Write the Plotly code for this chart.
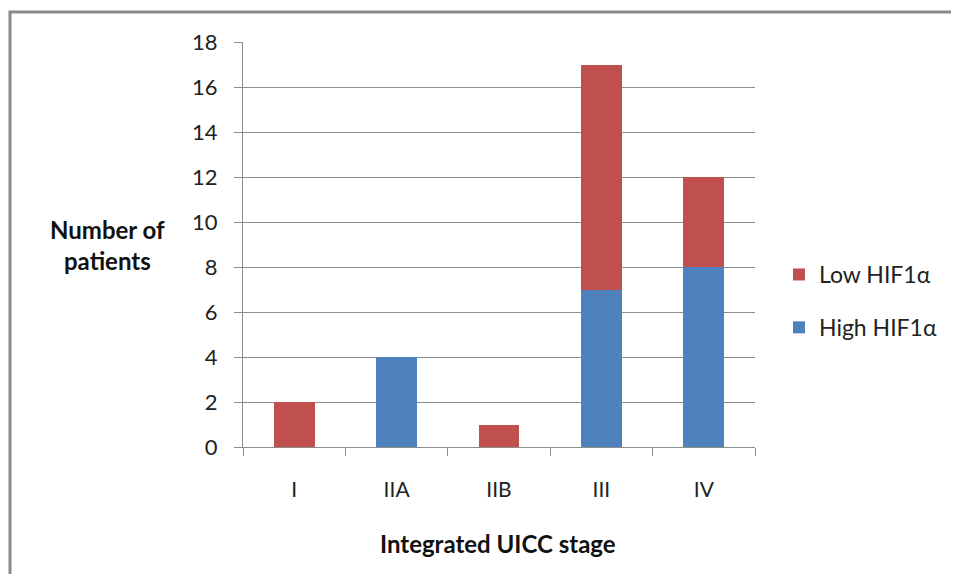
import plotly.graph_objects as go

categories = ["I", "IIA", "IIB", "III", "IV"]
high_hif = [0, 4, 0, 7, 8]
low_hif = [2, 0, 1, 10, 4]
y_ticks = list(range(0, 19, 2))

FONT = "Lato, Calibri, Arial, sans-serif"
GRID = "#8c8c8c"

# page body has an 8px margin; figure is 943x566 so page is exactly 959x582.
W, H = 943, 566
L, T = 235, 34
PW, PH = 512, 405
R, B = W - L - PW, H - T - PH


def px(xp):
    return (xp - 8 - L) / PW


def py(yp):
    return (H - B - (yp - 8)) / PH


fig = go.Figure()
fig.add_trace(go.Bar(x=categories, y=high_hif, name="High HIF1α",
                     marker=dict(color="#4F81BD", line=dict(width=0)),
                     legendgroup="h", legendrank=2))
fig.add_trace(go.Bar(x=categories, y=low_hif, name="Low HIF1α",
                     marker=dict(color="#C0504D", line=dict(width=0)),
                     legendgroup="l", legendrank=1))

fig.update_layout(
    barmode="stack",
    bargap=0.6,
    width=W, height=H,
    margin=dict(l=L, r=R, t=T, b=B, autoexpand=False),
    paper_bgcolor="white", plot_bgcolor="white",
    font=dict(family=FONT, size=21, color="#222222"),
    showlegend=True,
    legend=dict(x=px(779), y=py(301), xanchor="left", yanchor="middle",
                traceorder="grouped", tracegroupgap=20,
                font=dict(size=23, family=FONT), itemwidth=30),
    xaxis=dict(type="category", tickson="boundaries", ticks="outside",
               ticklen=8, tickcolor=GRID, showline=True, linecolor=GRID,
               showgrid=False, ticklabelstandoff=24, automargin=False,
               tickfont=dict(size=21, family=FONT)),
    yaxis=dict(range=[0, 18], tickvals=y_ticks, ticks="outside", ticklen=8,
               tickcolor=GRID, showline=True, linecolor=GRID,
               showgrid=True, gridcolor=GRID, gridwidth=1,
               zeroline=False, ticklabelstandoff=12, automargin=False,
               tickfont=dict(size=22, family=FONT)),
)

fig.add_annotation(text="<b>Number of<br>patients</b>", xref="paper", yref="paper",
                   x=px(107), y=py(245), xanchor="center", yanchor="middle",
                   showarrow=False, font=dict(size=24, family=FONT, color="#111111"),
                   align="center")
fig.add_annotation(text="<b>Integrated UICC stage</b>", xref="paper", yref="paper",
                   x=px(498), y=py(543), xanchor="center", yanchor="middle",
                   showarrow=False, font=dict(size=24, family=FONT, color="#111111"))

# outer chart frame (left and top edges visible)
fig.add_shape(type="rect", xref="paper", yref="paper",
              x0=px(10), y0=py(12), x1=px(1000), y1=py(640),
              line=dict(color="#8a8a8a", width=3), layer="below")

fig.write_html("out.html")
